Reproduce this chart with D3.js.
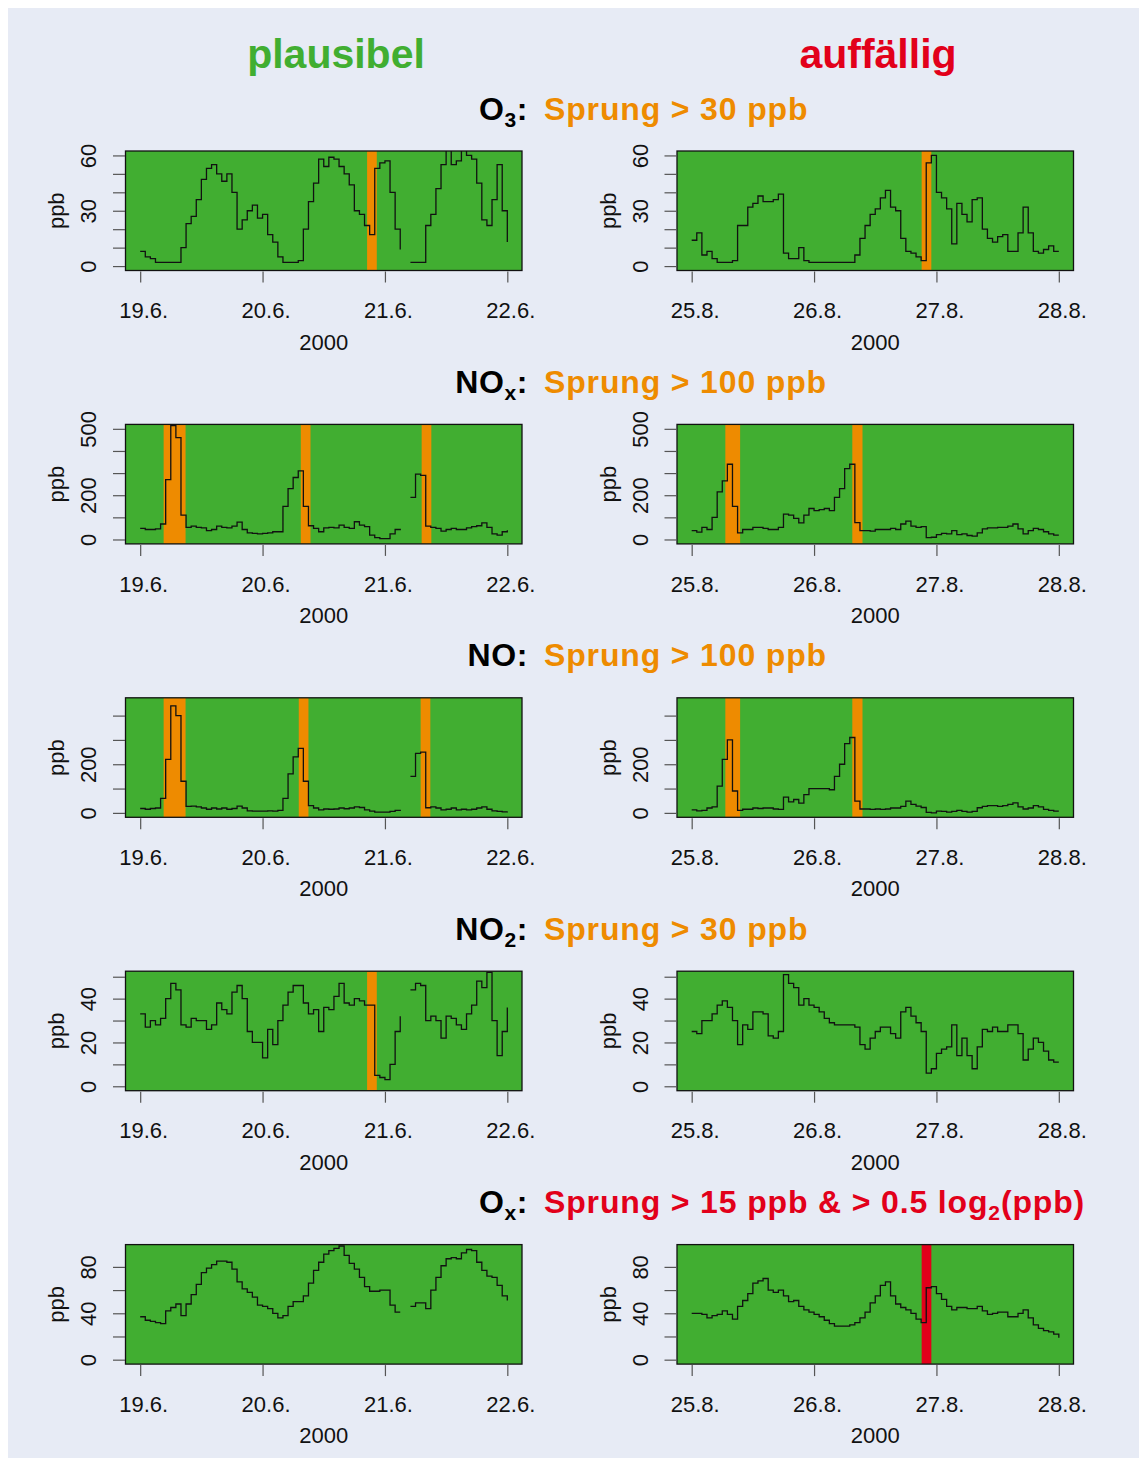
<!DOCTYPE html>
<html>
<head>
<meta charset="utf-8">
<script src="https://cdn.jsdelivr.net/npm/d3@7"></script>
<style>
  body { margin: 0; background: #fff; }
  svg { display: block; font-family: "Liberation Sans", Arial, Helvetica, sans-serif; }
</style>
</head>
<body>
<div id="chart"></div>
<script>
// hourly values, 19.6.–22.6.2000 (left) and 25.8.–28.8.2000 (right), null = missing
const dayTicks = [0, 24, 48, 72];
const dayLabelsLeft = ['19.6.', '20.6.', '21.6.', '22.6.'];
const dayLabelsRight = ['25.8.', '26.8.', '27.8.', '28.8.'];
const yearLabel = '2000';

const o3Left = [8, 5, 4, 2, 2, 2, 2, 2, 10, 23, 27, 36, 47, 53, 55, 50, 46, 50, 40, 20,
  25, 30, 33, 26, 28, 17, 13, 5, 2, 2, 2, 3, 20, 35, 45, 58, 54, 59, 58, 54,
  50, 44, 30, 28, 22, 17, 53, 56, 57, 40, 20, 9, null, 2, 2, 2, 22, 28, 42, 55,
  63, 55, 57, 63, 60, 58, 45, 25, 22, 36, 55, 30, 13];
const o3Right = [14, 18, 6, 8, 4, 2, 2, 2, 3, 22, 22, 32, 34, 38, 35, 35, 36, 39, 7, 4,
  4, 10, 3, 2, 2, 2, 2, 2, 2, 2, 2, 2, 6, 15, 22, 28, 31, 37, 41, 32,
  30, 15, 8, 7, 5, 3, 56, 60, 40, 37, 31, 12, 34, 28, 24, 36, 37, 20, 15, 13,
  16, 17, 8, 8, 18, 32, 18, 8, 7, 9, 11, 8, 8];

const noxLeft = [50, 45, 45, 48, 70, 270, 515, 460, 110, 55, 60, 55, 52, 40, 45, 60, 55, 52, 60, 78,
  45, 30, 28, 25, 28, 30, 35, 35, 150, 230, 280, 310, 150, 62, 50, 35, 52, 55, 52, 65,
  55, 50, 80, 65, 58, 20, 8, 4, 4, 25, 45, 48, null, 190, 295, 290, 60, 55, 50, 38,
  45, 50, 45, 45, 52, 58, 62, 75, 55, 25, 20, 35, 42];
const noxRight = [40, 33, 55, 45, 100, 215, 265, 340, 150, 30, 45, 45, 55, 55, 50, 45, 45, 55, 115, 110,
  95, 75, 110, 140, 130, 135, 140, 130, 190, 230, 320, 340, 76, 40, 40, 38, 45, 45, 45, 50,
  45, 70, 83, 60, 55, 58, 8, 10, 22, 28, 25, 40, 22, 25, 18, 15, 30, 48, 52, 52,
  55, 55, 60, 70, 48, 25, 40, 50, 45, 35, 25, 20, 20];

const noLeft = [18, 15, 18, 20, 60, 220, 440, 400, 130, 27, 28, 25, 20, 15, 20, 16, 20, 15, 18, 28,
  20, 8, 7, 7, 7, 8, 7, 10, 60, 160, 230, 265, 130, 30, 20, 12, 16, 15, 16, 20,
  17, 20, 25, 22, 12, 7, 3, 3, 3, 6, 10, 13, null, 150, 245, 250, 21, 25, 20, 12,
  15, 20, 12, 15, 12, 15, 20, 25, 15, 8, 6, 4, 6];
const noRight = [12, 8, 10, 20, 25, 110, 220, 300, 90, 10, 15, 15, 20, 18, 20, 20, 16, 14, 65, 45,
  55, 40, 75, 100, 100, 100, 100, 95, 150, 200, 285, 310, 48, 16, 16, 14, 16, 14, 16, 20,
  20, 27, 48, 35, 28, 22, 2, 0, 7, 6, 3, 6, 10, 6, 3, 6, 21, 27, 30, 30,
  27, 30, 35, 41, 25, 16, 20, 30, 25, 14, 10, 7, 7];

const no2Left = [33, 27, 30, 28, 31, 40, 47, 44, 28, 27, 31, 30, 30, 26, 28, 38, 35, 33, 43, 46,
  40, 25, 20, 20, 13, 26, 19, 30, 37, 43, 46, 46, 38, 33, 35, 25, 36, 35, 41, 47,
  38, 37, 40, 39, 37, 37, 5, 4, 3, 10, 25, 32, null, 44, 47, 46, 30, 32, 30, 22,
  32, 31, 28, 26, 33, 37, 48, 45, 52, 30, 14, 25, 36];
const no2Right = [25, 24, 30, 30, 33, 37, 39, 36, 30, 19, 28, 26, 34, 34, 33, 23, 22, 25, 51, 47,
  45, 37, 40, 37, 36, 34, 31, 29, 28, 28, 28, 28, 27, 19, 17, 22, 25, 27, 27, 24,
  22, 34, 36, 32, 29, 25, 6, 8, 15, 17, 18, 28, 14, 22, 14, 8, 18, 26, 25, 27,
  25, 25, 28, 28, 24, 12, 17, 22, 20, 16, 12, 11, 11];

const oxLeft = [37, 34, 33, 32, 31, 42, 45, 48, 38, 48, 56, 65, 75, 79, 82, 85, 85, 84, 78, 67,
  61, 58, 54, 47, 46, 44, 40, 36, 38, 46, 50, 50, 55, 66, 77, 84, 91, 94, 96, 98,
  90, 83, 78, 71, 63, 59, 59, 60, 60, 47, 41, 41, null, 46, 49, 49, 44, 60, 71, 81,
  87, 88, 87, 92, 95, 94, 84, 77, 72, 71, 64, 55, 51];
const oxRight = [40, 40, 39, 36, 38, 39, 42, 39, 35, 46, 51, 57, 66, 68, 70, 60, 58, 60, 55, 50,
  51, 46, 43, 41, 39, 37, 34, 31, 29, 29, 29, 30, 32, 36, 41, 49, 55, 64, 67, 55,
  48, 45, 43, 40, 35, 32, 62, 63, 57, 52, 46, 43, 45, 45, 44, 44, 46, 42, 39, 40,
  41, 41, 37, 37, 40, 43, 36, 30, 27, 25, 24, 22, 19];

// flagged intervals (hours)
const o3LeftFlags = [[44.5, 46.4]];
const o3RightFlags = [[45.1, 47.0]];
const noxLeftFlags = [[4.6, 8.9], [31.5, 33.4], [55.2, 57.1]];
const noxRightFlags = [[6.6, 9.5], [31.5, 33.5]];
const noLeftFlags = [[4.6, 8.9], [31.1, 33.0], [55.0, 56.9]];
const noRightFlags = [[6.6, 9.5], [31.5, 33.5]];
const no2LeftFlags = [[44.5, 46.4]];
const no2RightFlags = [];
const oxLeftFlags = [];
const oxRightFlags = [[45.1, 47.0]];

const yLimits = [[0, 60], [0, 500], [0, 455], [0, 50.5], [0, 95.4]];
const yTickSets = [d3.range(0, 61, 10), d3.range(0, 501, 100), d3.range(0, 401, 100), d3.range(0, 51, 10), d3.range(0, 81, 20)];
const yLabelSets = [[0, 30, 60], [0, 200, 500], [0, 200], [0, 20, 40], [0, 40, 80]];

const rowNames = [['O', '3'], ['NO', 'x'], ['NO', ''], ['NO', '2'], ['O', 'x']];
const rowRules = [
  [['Sprung > 30 ppb', '']],
  [['Sprung > 100 ppb', '']],
  [['Sprung > 100 ppb', '']],
  [['Sprung > 30 ppb', '']],
  [['Sprung > 15 ppb & > 0.5 log', '2'], ['(ppb)', '']]
];

const leftSeries = [o3Left, noxLeft, noLeft, no2Left, oxLeft];
const rightSeries = [o3Right, noxRight, noRight, no2Right, oxRight];
const leftFlags = [o3LeftFlags, noxLeftFlags, noLeftFlags, no2LeftFlags, oxLeftFlags];
const rightFlags = [o3RightFlags, noxRightFlags, noRightFlags, no2RightFlags, oxRightFlags];

const W = 1147, H = 1464;
const green = '#41ae31', orange = '#ee8b00', red = '#e2001a', bg = '#e7ebf5';
const boxX = [125.5, 677], boxW = 396.5, boxH = 119.5;
const rowTop0 = 151, rowStep = 273.4;

const svg = d3.select('#chart').append('svg')
  .attr('width', W).attr('height', H);

svg.append('rect').attr('x', 8).attr('y', 8).attr('width', 1131).attr('height', 1450).attr('fill', bg);

// column headers
svg.append('text').attr('x', 336).attr('y', 68).attr('text-anchor', 'middle')
  .attr('font-size', 41).attr('font-weight', 'bold').attr('fill', green).text('plausibel');
svg.append('text').attr('x', 878).attr('y', 68).attr('text-anchor', 'middle')
  .attr('font-size', 41).attr('font-weight', 'bold').attr('fill', red).text('auffällig');

function drawPanel(row, col, values, flags) {
  const x0 = boxX[col], top = rowTop0 + row * rowStep, bottom = top + boxH;
  const [lo, hi] = yLimits[row];
  const ext = 0.04 * (hi - lo);
  const x = d3.scaleLinear().domain([-2.88, 74.88]).range([x0, x0 + boxW]);
  const y = d3.scaleLinear().domain([lo - ext, hi + ext]).range([bottom, top]);
  const g = svg.append('g');
  const clipId = `clip-${row}-${col}`;

  g.append('clipPath').attr('id', clipId)
    .append('rect').attr('x', x0).attr('y', top).attr('width', boxW).attr('height', boxH);

  g.append('rect').attr('x', x0).attr('y', top).attr('width', boxW).attr('height', boxH).attr('fill', green);

  const bandColor = row === 4 ? red : orange;
  g.append('g').attr('clip-path', `url(#${clipId})`)
    .selectAll('rect').data(flags).join('rect')
    .attr('x', d => x(d[0])).attr('width', d => x(d[1]) - x(d[0]))
    .attr('y', top).attr('height', boxH).attr('fill', bandColor);

  const line = d3.line()
    .defined(d => d != null)
    .x((d, i) => x(i)).y(d => y(d))
    .curve(d3.curveStepAfter);
  g.append('path').datum(values)
    .attr('clip-path', `url(#${clipId})`)
    .attr('d', line).attr('fill', 'none').attr('stroke', '#111').attr('stroke-width', 1.3);

  g.append('rect').attr('x', x0).attr('y', top).attr('width', boxW).attr('height', boxH)
    .attr('fill', 'none').attr('stroke', '#111').attr('stroke-width', 1.3);

  // x axis
  const dayLabels = col === 0 ? dayLabelsLeft : dayLabelsRight;
  const xAxisG = g.append('g').attr('transform', `translate(0,${bottom + 1})`)
    .call(d3.axisBottom(x).tickValues(dayTicks).tickSize(11).tickPadding(20)
      .tickFormat((d, i) => dayLabels[i]));
  xAxisG.select('.domain').remove();
  xAxisG.selectAll('line').attr('stroke', '#555').attr('stroke-width', 1.2);
  xAxisG.selectAll('text').attr('font-size', 22).attr('fill', '#111').attr('dx', 3)
    .attr('font-family', '"Liberation Sans", Arial, sans-serif');

  g.append('text').attr('x', x0 + boxW / 2).attr('y', bottom + 79).attr('text-anchor', 'middle')
    .attr('font-size', 22).attr('fill', '#111').text(yearLabel);

  // y axis
  const labelSet = yLabelSets[row];
  const yAxisG = g.append('g').attr('transform', `translate(${x0 - 0.5},0)`)
    .call(d3.axisLeft(y).tickValues(yTickSets[row]).tickSize(12)
      .tickFormat(d => labelSet.includes(d) ? String(d) : ''));
  yAxisG.select('.domain').remove();
  yAxisG.selectAll('line').attr('stroke', '#555').attr('stroke-width', 1.2);
  yAxisG.selectAll('text')
    .attr('x', null).attr('dy', null)
    .attr('text-anchor', 'middle')
    .attr('transform', 'translate(-29,0) rotate(-90)')
    .attr('font-size', 22).attr('fill', '#111')
    .attr('font-family', '"Liberation Sans", Arial, sans-serif');

  g.append('text')
    .attr('transform', `translate(${x0 - 61.5},${top + boxH / 2}) rotate(-90)`)
    .attr('text-anchor', 'middle').attr('font-size', 22).attr('fill', '#111').text('ppb');
}

rowNames.forEach((name, row) => {
  const base = 119.5 + row * rowStep;
  const lab = svg.append('text').attr('x', 528).attr('y', base).attr('text-anchor', 'end')
    .attr('font-size', 32).attr('font-weight', 'bold').attr('fill', '#000')
    .attr('letter-spacing', 0.6);
  lab.append('tspan').text(name[0]);
  if (name[1]) lab.append('tspan').attr('font-size', 21).attr('dy', 7).text(name[1]);
  lab.append('tspan').attr('dy', name[1] ? -7 : 0).text(':');

  const rule = svg.append('text').attr('x', 544).attr('y', base)
    .attr('font-size', 32).attr('font-weight', 'bold').attr('fill', row === 4 ? red : orange)
    .attr('letter-spacing', 0.85);
  rowRules[row].forEach(([txt, sub]) => {
    rule.append('tspan').attr('y', base).text(txt);
    if (sub) rule.append('tspan').attr('font-size', 21).attr('y', base + 7).text(sub);
  });

  drawPanel(row, 0, leftSeries[row], leftFlags[row]);
  drawPanel(row, 1, rightSeries[row], rightFlags[row]);
});
</script>
</body>
</html>
